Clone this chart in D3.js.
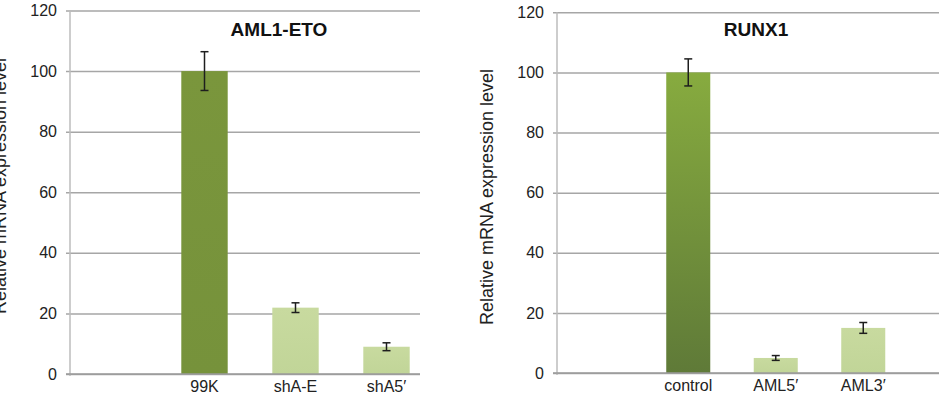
<!DOCTYPE html>
<meta charset="utf-8">
<style>
body { margin: 0; background: #fff; }
text { font-family: Arial, "Liberation Sans", sans-serif; }
.grid path { display: none; }
.grid line { stroke: #a6a6a6; stroke-width: 1.5; }
.grid text { fill: #222; font-size: 16px; }
.xax path, .xax line { display: none; }
.xax text { fill: #222; font-size: 16px; }
</style>
<svg width="939" height="400"></svg>
<script src="https://cdn.jsdelivr.net/npm/d3@7"></script>
<script>

// left panel: AML1-ETO
var catsA = ["", "99K", "shA-E", "shA5\u2032"];
var valsA = [null, 100, 21.9, 9.0];
var errA = [null, 6.4, 1.6, 1.3];

// right panel: RUNX1
var catsR = ["", "control", "AML5\u2032", "AML3\u2032"];
var valsR = [null, 100, 5.0, 15.0];
var errR = [null, 4.5, 0.8, 1.8];

var yTicks = [0, 20, 40, 60, 80, 100, 120];

var svg = d3.select("svg");

var defs = svg.append("defs");
function grad(id, top, bottom) {
  var g = defs.append("linearGradient").attr("id", id)
    .attr("x1", 0).attr("y1", 0).attr("x2", 0).attr("y2", 1);
  g.append("stop").attr("offset", "0%").attr("stop-color", top);
  g.append("stop").attr("offset", "100%").attr("stop-color", bottom);
}
grad("darkA", "#7a963c", "#76923b");
grad("darkR", "#87ab3f", "#5f7a38");
grad("light", "#c8da9f", "#c1d598");

function panel(o) {
  var y = d3.scaleLinear().domain([0, 120]).range([o.y0, o.y1]);
  var x = d3.scaleBand().domain(o.cats).range([o.xStart, o.xEnd])
    .paddingInner(o.pad).paddingOuter(o.pad / 2);

  // gridlines + y tick labels
  svg.append("g").attr("class", "grid")
    .attr("transform", "translate(" + (o.axisX - 4) + ",0)")
    .call(d3.axisLeft(y).tickValues(yTicks)
      .tickSize(-(o.gridEnd - o.axisX + 4)).tickPadding(9));

  // vertical axis line
  svg.append("line")
    .attr("x1", o.axisX).attr("x2", o.axisX)
    .attr("y1", y(120)).attr("y2", y(0) + 2)
    .attr("stroke", "#bdbdbd").attr("stroke-width", 1.5);

  // bars
  var data = o.cats.map(function(c, i) {
    return {c: c, v: o.vals[i], e: o.errs[i], fill: i === 1 ? o.dark : "url(#light)"};
  }).filter(function(d) { return d.v != null; });

  svg.append("g").selectAll("rect").data(data).enter().append("rect")
    .attr("x", function(d) { return x(d.c); })
    .attr("y", function(d) { return y(d.v); })
    .attr("width", x.bandwidth())
    .attr("height", function(d) { return y(0) - y(d.v); })
    .attr("fill", function(d) { return d.fill; });

  // baseline
  svg.append("line")
    .attr("x1", o.axisX - 4).attr("x2", o.gridEnd)
    .attr("y1", y(0)).attr("y2", y(0))
    .attr("stroke", "#9a9a9a").attr("stroke-width", 1.5);

  // error bars
  var eb = svg.append("g").attr("stroke", "#1e1e1e").attr("stroke-width", 1.5);
  data.forEach(function(d) {
    var cx = x(d.c) + x.bandwidth() / 2;
    eb.append("line").attr("x1", cx).attr("x2", cx)
      .attr("y1", y(d.v + d.e)).attr("y2", y(d.v - d.e));
    [d.v + d.e, d.v - d.e].forEach(function(v) {
      eb.append("line").attr("x1", cx - 4).attr("x2", cx + 4)
        .attr("y1", y(v)).attr("y2", y(v));
    });
  });

  // category labels
  svg.append("g").attr("class", "xax")
    .attr("transform", "translate(0," + y(0) + ")")
    .call(d3.axisBottom(x).tickSize(0).tickPadding(7));

  // title
  svg.append("text")
    .attr("x", o.titleX).attr("y", 36)
    .attr("text-anchor", "middle")
    .attr("font-weight", "bold").attr("font-size", 19).attr("fill", "#111")
    .text(o.title);

  // y label
  svg.append("text")
    .attr("transform", "translate(" + o.labelX + "," + o.labelY + ") rotate(-90)")
    .attr("text-anchor", "middle")
    .attr("font-size", 18).attr("fill", "#222")
    .text("Relative mRNA expression level");
}

panel({
  cats: catsA, vals: valsA, errs: errA, dark: "url(#darkA)",
  y0: 374, y1: 10.5, xStart: 68, xEnd: 432, pad: 0.49,
  axisX: 70, gridEnd: 420, title: "AML1-ETO", titleX: 279,
  labelX: 6, labelY: 186
});

panel({
  cats: catsR, vals: valsR, errs: errR, dark: "url(#darkR)",
  y0: 373, y1: 12.3, xStart: 557, xEnd: 907, pad: 0.497,
  axisX: 557, gridEnd: 939, title: "RUNX1", titleX: 756,
  labelX: 493, labelY: 197
});

</script>
